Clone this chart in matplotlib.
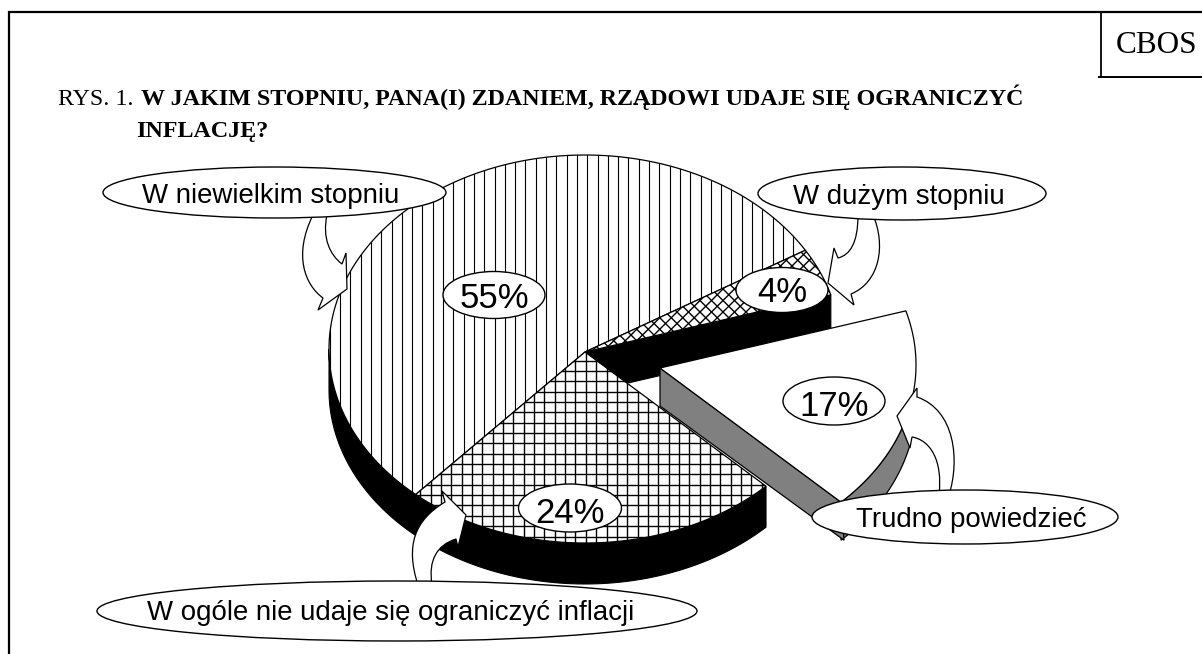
import numpy as np
import matplotlib
matplotlib.use('Agg')
import matplotlib.pyplot as plt
from matplotlib.patches import Ellipse, Polygon, PathPatch
from matplotlib.path import Path
from matplotlib.collections import LineCollection

#data
title_prefix = 'RYS. 1. '
title_line1 = 'W JAKIM STOPNIU, PANA(I) ZDANIEM, RZĄDOWI UDAJE SIĘ OGRANICZYĆ'
title_line2 = 'INFLACJĘ?'
categories = ['W dużym stopniu', 'Trudno powiedzieć', 'W ogóle nie udaje się ograniczyć inflacji', 'W niewielkim stopniu']
values = [4, 17, 24, 55]

#pie geometry, in pixels of the picture
cx, cy = 585, 349
rx, ry = 256, 194
vertex_dy = 3
depth = 41
start_angle = 30.6
explode = (75, 16)
gray_depth = 38

fig = plt.figure(figsize=(12.02, 6.54), dpi=100)
ax = fig.add_axes([0, 0, 1, 1])
ax.set_xlim(0, 1202)
ax.set_ylim(654, 0)
ax.axis('off')


def arc(t1, t2, n=120):
    t = np.radians(np.linspace(t1, t2, n))
    return np.column_stack([cx + rx * np.cos(t), cy - ry * np.sin(t)])


def wedge(t1, t2):
    return np.vstack([[cx, cy + vertex_dy], arc(t1, t2)])


#slice angles going clockwise
angles = start_angle - np.concatenate([[0], np.cumsum(values)]) * 3.6
a_small = (angles[0], angles[1])
a_hard = (angles[1], angles[2])
a_none = (angles[2], angles[3])
a_big = (angles[3], angles[4])

#black side of the pie
top = arc(-180, a_hard[1])
low = top + [0, depth]
ax.add_patch(Polygon(np.vstack([top, low[::-1]]), fc='black', ec='black', lw=0.8, zorder=2))

#black cut face under the 4% slice
p_edge = arc(a_small[1], a_small[1], 1)[0]
face = [[cx, cy + vertex_dy], p_edge, p_edge + [0, depth], [cx, cy + vertex_dy + depth]]
ax.add_patch(Polygon(face, fc='black', ec='black', lw=0.8, zorder=2))


def top_slice(a):
    p = Polygon(wedge(a[0], a[1]), fc='white', ec='black', lw=0.9, zorder=3)
    ax.add_patch(p)
    return p


def add_hatch(segs, patch, lw=0.9):
    lc = LineCollection(segs, colors='black', linewidths=lw, zorder=3.2)
    ax.add_collection(lc)
    lc.set_clip_path(patch)


#55%: vertical lines
p_big = top_slice(a_big)
xs = np.arange(340 - 10.3 * 2, 800, 10.3)
add_hatch([[(x, 100), (x, 600)] for x in xs], p_big, 0.8)

#24%: grid
p_none = top_slice(a_none)
xs = np.arange(503 - 10.35 * 10, 800, 10.35)
ys = np.arange(433 - 10.35 * 10, 600, 10.35)
add_hatch([[(x, 300), (x, 600)] for x in xs] + [[(300, y), (800, y)] for y in ys], p_none, 1.0)

#4%: diagonal cross
p_small = top_slice(a_small)
cs = np.arange(0, 1500, 11.5)
segs = [[(c - 400, 400), (c, 0)] for c in cs] + [[(c - 900, 0), (c - 500, 400)] for c in cs]
add_hatch(segs, p_small, 1.0)

#exploded 17% slice
ox, oy = explode
gtop = arc(a_hard[1], -12, 60) + [ox, oy]
glow = gtop + [0, gray_depth]
ax.add_patch(Polygon(np.vstack([gtop, glow[::-1]]), fc='#808080', ec='black', lw=0.9, zorder=4))
p_v = np.array([cx + ox, cy + vertex_dy + oy])
p_e = arc(a_hard[1], a_hard[1], 1)[0] + [ox, oy]
ax.add_patch(Polygon([p_v, p_e, p_e + [3, gray_depth], p_v + [0, gray_depth]], fc='#808080', ec='black', lw=0.9, zorder=4))
ax.add_patch(Polygon(wedge(a_hard[0], a_hard[1]) + [ox, oy], fc='white', ec='black', lw=0.9, zorder=5))

#block arrows
M, L, C, Z = Path.MOVETO, Path.LINETO, Path.CURVE4, Path.CLOSEPOLY
arrow_codes = [M, C, C, C, L, L, L, L, C, C, C, Z]
arrow_shapes = [
    [(313, 215), (293, 255), (305, 285), (323, 298), (318, 310), (347, 289), (346, 253), (342, 264), (330, 255), (322, 238), (327, 215), (313, 215)],
    [(858, 215), (858, 243), (850, 255), (838, 258), (834, 248), (828, 283), (854, 305), (851, 294), (880, 282), (886, 245), (873, 215), (858, 215)],
    [(949, 495), (960, 460), (955, 410), (917, 397), (917, 388), (897, 416), (910, 448), (912, 437), (930, 440), (943, 460), (939, 495), (949, 495)],
    [(418, 585), (405, 545), (415, 520), (445, 502), (442, 491), (466, 515), (458, 547), (456, 539), (437, 545), (428, 560), (432, 585), (418, 585)],
]
for verts in arrow_shapes:
    ax.add_patch(PathPatch(Path(verts, arrow_codes), fc='white', ec='black', lw=0.9, zorder=6))

#labels in ellipses
label_pos = [(902, 193.5, 288, 53), (965, 517, 306, 54), (397, 611, 600, 60), (274.5, 192.5, 343, 51)]
text_xy = [(899, 204), (971, 527), (391, 620), (271, 203)]
for name, (x, y, w, h), (tx, ty) in zip(categories, label_pos, text_xy):
    ax.add_patch(Ellipse((x, y), w, h, fc='white', ec='black', lw=1.0, zorder=7))
    ax.text(tx, ty, name, family='Liberation Sans', fontsize=19.9, ha='center', va='baseline', zorder=8)

pct_pos = [(782, 290, 92, 45), (834, 401, 102, 48), (570, 508, 103, 48), (494, 295, 102, 47)]
pct_base = [302, 416, 523, 308]
for v, (x, y, w, h), by in zip(values, pct_pos, pct_base):
    ax.add_patch(Ellipse((x, y), w, h, fc='white', ec='black', lw=1.0, zorder=7))
    ax.text(x, by, '%d%%' % v, family='Liberation Sans', fontsize=25, ha='center', va='baseline', zorder=8)

#frame and CBOS box
ax.plot([8.5, 8.5, 1202], [654, 12, 12], color='black', lw=1.6, solid_joinstyle='miter', zorder=1)
ax.plot([1101, 1101], [12, 77], color='black', lw=1.3, zorder=1)
ax.plot([1099, 1202], [77, 77], color='black', lw=1.4, zorder=1)
ax.text(1116, 53, 'CBOS', family='Liberation Serif', fontsize=22.5, ha='left', va='baseline')

#title
ax.text(58, 105, title_prefix, family='Liberation Serif', fontsize=17.3, ha='left', va='baseline')
ax.text(141, 105, title_line1, family='Liberation Serif', weight='bold', fontsize=17.3, ha='left', va='baseline')
ax.text(136, 137, title_line2, family='Liberation Serif', weight='bold', fontsize=17.3, ha='left', va='baseline')

fig.savefig('out.png', dpi=100)
